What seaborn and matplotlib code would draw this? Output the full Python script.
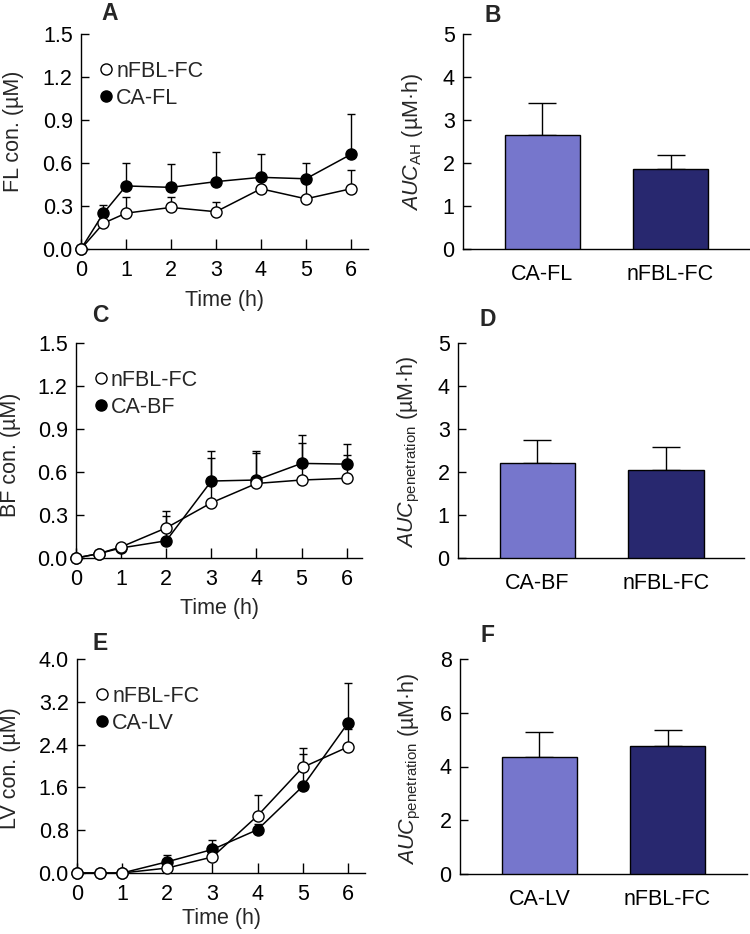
import numpy as np
import pandas as pd
import matplotlib
matplotlib.use("Agg")
import matplotlib.pyplot as plt
from matplotlib.lines import Line2D
import seaborn as sns

# ---------------- data ----------------
times = [0, 0.5, 1, 2, 3, 4, 5, 6]

fl_nfbl = [0, 0.18, 0.25, 0.29, 0.26, 0.42, 0.35, 0.42]
fl_nfbl_err = [0, 0.06, 0.11, 0.07, 0.07, 0.07, 0.12, 0.13]
fl_ca = [0, 0.25, 0.44, 0.43, 0.47, 0.50, 0.49, 0.66]
fl_ca_err = [0, 0.06, 0.16, 0.16, 0.21, 0.16, 0.11, 0.28]

bf_nfbl = [0, 0.03, 0.077, 0.21, 0.385, 0.52, 0.544, 0.556]
bf_nfbl_err = [0, 0.0, 0.02, 0.12, 0.31, 0.21, 0.26, 0.16]
bf_ca = [0, 0.03, 0.07, 0.12, 0.537, 0.544, 0.66, 0.655]
bf_ca_err = [0, 0.0, 0.0, 0.17, 0.21, 0.20, 0.20, 0.14]

lv_nfbl = [0, 0, 0, 0.093, 0.30, 1.07, 1.975, 2.355]
lv_nfbl_err = [0, 0, 0, 0.10, 0.13, 0.38, 0.36, 0.34]
lv_ca = [0, 0, 0, 0.21, 0.44, 0.81, 1.62, 2.80]
lv_ca_err = [0, 0, 0, 0.13, 0.18, 0.10, 0.60, 0.75]

auc_fl_cats = ["CA-FL", "nFBL-FC"]
auc_fl = [2.64, 1.85]
auc_fl_err = [0.75, 0.34]

auc_bf_cats = ["CA-BF", "nFBL-FC"]
auc_bf = [2.22, 2.04]
auc_bf_err = [0.52, 0.53]

auc_lv_cats = ["CA-LV", "nFBL-FC"]
auc_lv = [4.34, 4.77]
auc_lv_err = [0.96, 0.58]

fl_ticks = [0.0, 0.3, 0.6, 0.9, 1.2, 1.5]
bf_ticks = [0.0, 0.3, 0.6, 0.9, 1.2, 1.5]
lv_ticks = [0.0, 0.8, 1.6, 2.4, 3.2, 4.0]
auc_fl_ticks = [0, 1, 2, 3, 4, 5]
auc_bf_ticks = [0, 1, 2, 3, 4, 5]
auc_lv_ticks = [0, 2, 4, 6, 8]
time_ticks = [0, 1, 2, 3, 4, 5, 6]

# ---------------- style ----------------
sns.set_theme(style="ticks")
plt.rcParams["font.family"] = ["Liberation Sans", "DejaVu Sans"]
plt.rcParams["mathtext.fontset"] = "custom"
plt.rcParams["mathtext.rm"] = "Liberation Sans"
plt.rcParams["mathtext.it"] = "Liberation Sans:italic"
plt.rcParams["axes.linewidth"] = 1.0

FS = 15.5
LIGHT = "#7676CC"
DARK = "#28286F"

W, H = 750, 934
fig = plt.figure(figsize=(W / 100, H / 100), dpi=100)


def add_ax(left, right, top, bottom):
    return fig.add_axes([left / W, 1 - bottom / H, (right - left) / W, (bottom - top) / H])


def style_ax(ax):
    sns.despine(ax=ax)
    ax.tick_params(axis="both", direction="in", length=6, width=1.0,
                   labelsize=FS, color="black", labelcolor="black", pad=6)
    for s in ["left", "bottom"]:
        ax.spines[s].set_color("black")
        ax.spines[s].set_linewidth(1.0)


def line_panel(ax, t, y_open, e_open, y_fill, e_fill, ticks, fmt, ylabel,
               leg_fill, xmax):
    # error bars (upper only)
    ax.errorbar(t, y_fill, yerr=[np.zeros(len(t)), e_fill], fmt="none",
                ecolor="black", elinewidth=1.0, capsize=2.6, capthick=1.0,
                zorder=2, clip_on=False)
    ax.errorbar(t, y_open, yerr=[np.zeros(len(t)), e_open], fmt="none",
                ecolor="black", elinewidth=1.0, capsize=2.6, capthick=1.0,
                zorder=2, clip_on=False)
    df_f = pd.DataFrame({"t": t, "y": y_fill})
    df_o = pd.DataFrame({"t": t, "y": y_open})
    sns.lineplot(data=df_f, x="t", y="y", ax=ax, color="black", lw=1.1,
                 marker="o", markersize=8, markerfacecolor="black",
                 markeredgecolor="black", markeredgewidth=1.0, clip_on=False,
                 zorder=3)
    sns.lineplot(data=df_o, x="t", y="y", ax=ax, color="black", lw=1.1,
                 marker="o", markersize=8, markerfacecolor="white",
                 markeredgecolor="black", markeredgewidth=1.0, clip_on=False,
                 zorder=4)
    ax.set_xlim(0, xmax)
    ax.set_ylim(ticks[0], ticks[-1])
    ax.set_xticks(time_ticks)
    ax.set_xticklabels([str(v) for v in time_ticks])
    ax.set_yticks(ticks)
    ax.set_yticklabels([fmt.format(v) for v in ticks])
    style_ax(ax)
    ax.tick_params(axis="x", length=7, pad=8)
    ax.set_xlabel("Time (h)", fontsize=FS)
    ax.set_ylabel(ylabel, fontsize=FS)
    handles = [
        Line2D([], [], ls="none", marker="o", markersize=8, markerfacecolor="white",
               markeredgecolor="black", markeredgewidth=1.0),
        Line2D([], [], ls="none", marker="o", markersize=8, markerfacecolor="black",
               markeredgecolor="black", markeredgewidth=1.0),
    ]
    ax.legend(handles, ["nFBL-FC", leg_fill], loc="upper left",
              bbox_to_anchor=(0.066, 0.875), frameon=False, fontsize=FS,
              handlelength=0.6, handletextpad=0.15, labelspacing=0.27,
              borderpad=0, borderaxespad=0)


def bar_panel(ax, cats, vals, errs, ticks, ylabel, xlim):
    df = pd.DataFrame({"cat": cats, "val": vals})
    sns.barplot(data=df, x="cat", y="val", hue="cat", palette=[LIGHT, DARK],
                saturation=1, legend=False, ax=ax, width=0.586,
                edgecolor="black", linewidth=1.0, errorbar=None, zorder=3)
    ax.errorbar(range(len(cats)), vals, yerr=[np.zeros(len(cats)), errs],
                fmt="none", ecolor="black", elinewidth=1.0, capsize=10,
                capthick=1.0, zorder=2)
    ax.set_xlim(*xlim)
    ax.set_ylim(ticks[0], ticks[-1])
    ax.set_yticks(ticks)
    ax.set_yticklabels([str(v) for v in ticks])
    style_ax(ax)
    ax.tick_params(axis="x", length=0, pad=11)
    ax.set_xlabel("")
    ax.set_ylabel(ylabel, fontsize=FS)


# Panel A
axA = add_ax(81, 368, 34, 249)
line_panel(axA, times, fl_nfbl, fl_nfbl_err, fl_ca, fl_ca_err, fl_ticks,
           "{:.1f}", "FL con. (µM)", "CA-FL", 6.38)
axA.yaxis.set_label_coords(-0.20, 0.546)
axA.xaxis.set_label_coords(0.5, -0.19)

# Panel B
axB = add_ax(463, 750, 34, 249)
bar_panel(axB, auc_fl_cats, auc_fl, auc_fl_err, auc_fl_ticks,
          r"$\mathit{AUC}_{\mathrm{AH}}$ (µM·h)", (-0.62, 1.62))
axB.yaxis.set_label_coords(-0.132, 0.5)

# Panel C
axC = add_ax(76, 362, 343, 558)
line_panel(axC, times, bf_nfbl, bf_nfbl_err, bf_ca, bf_ca_err, bf_ticks,
           "{:.1f}", "BF con. (µM)", "CA-BF", 6.34)
axC.yaxis.set_label_coords(-0.192, 0.48)
axC.xaxis.set_label_coords(0.5, -0.187)

# Panel D
axD = add_ax(458, 744, 343, 558)
bar_panel(axD, auc_bf_cats, auc_bf, auc_bf_err, auc_bf_ticks,
          r"$\mathit{AUC}_{\mathrm{penetration}}$ (µM·h)", (-0.615, 1.604))
axD.yaxis.set_label_coords(-0.126, 0.494)

# Panel E
axE = add_ax(77, 365, 659, 873)
line_panel(axE, times, lv_nfbl, lv_nfbl_err, lv_ca, lv_ca_err, lv_ticks,
           "{:.1f}", "LV con. (µM)", "CA-LV", 6.38)
axE.yaxis.set_label_coords(-0.194, 0.49)
axE.xaxis.set_label_coords(0.5, -0.165)

# Panel F
axF = add_ax(460, 747, 659, 874)
bar_panel(axF, auc_lv_cats, auc_lv, auc_lv_err, auc_lv_ticks,
          r"$\mathit{AUC}_{\mathrm{penetration}}$ (µM·h)", (-0.62, 1.62))
axF.yaxis.set_label_coords(-0.129, 0.49)

# Panel letters
for lab, x, y in [("A", 110, 14), ("B", 493, 15), ("C", 100, 316),
                  ("D", 488, 319), ("E", 100, 643), ("F", 488, 636)]:
    fig.text(x / W, 1 - y / H, lab, fontsize=16.5, fontweight="bold",
             ha="center", va="center")

fig.savefig("out.png", dpi=100)
